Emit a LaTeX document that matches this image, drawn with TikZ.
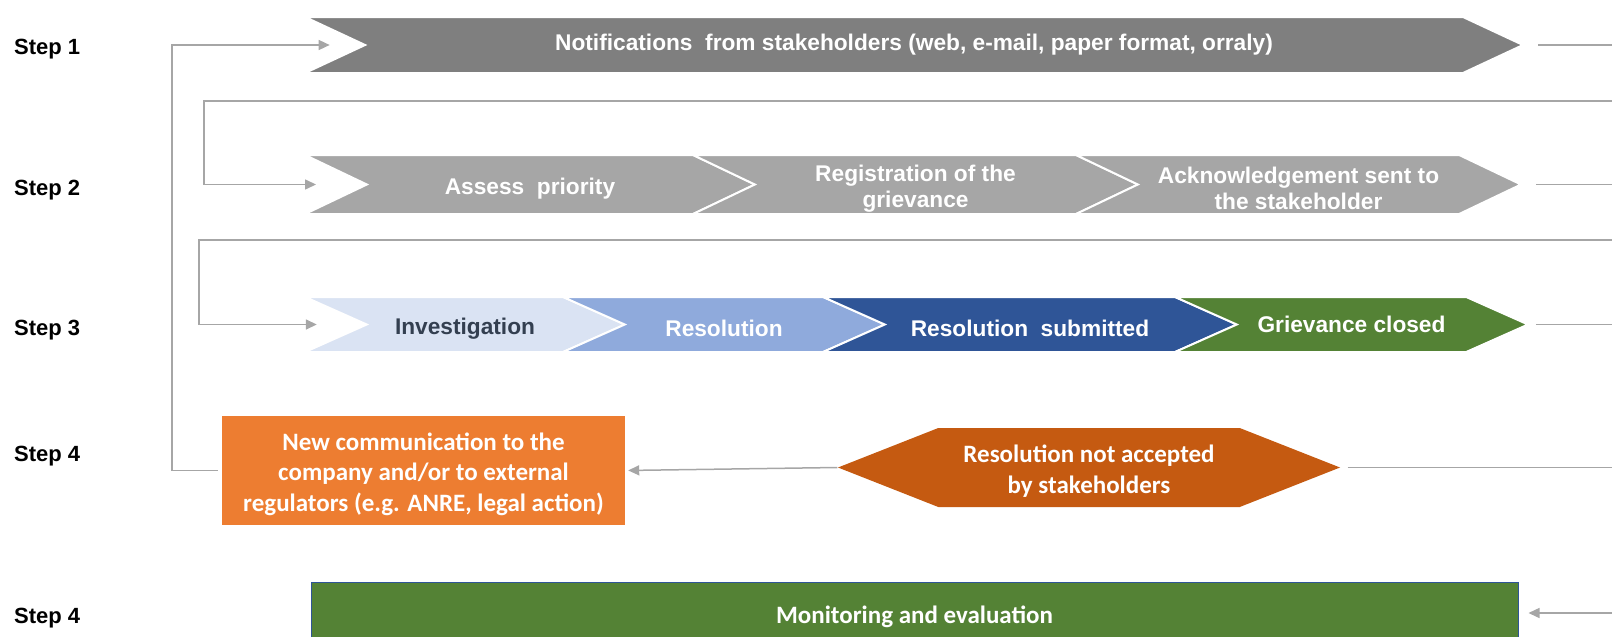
\documentclass[tikz,border=0pt]{standalone}
\usepackage{fontspec}
\setmainfont{Liberation Sans}
\newfontfamily\calibri{Carlito}
\usetikzlibrary{arrows.meta, positioning, shapes.symbols}

\definecolor{darkgrey}{HTML}{7F7F7F}
\definecolor{midgrey}{HTML}{A6A6A6}
\definecolor{paleblue}{HTML}{DAE3F3}
\definecolor{softblue}{HTML}{8FAADC}
\definecolor{deepblue}{HTML}{2F5597}
\definecolor{leafgreen}{HTML}{548235}
\definecolor{lightorange}{HTML}{ED7D31}
\definecolor{darkorange}{HTML}{C55A11}
\definecolor{slate}{HTML}{333F50}
\definecolor{linegrey}{HTML}{A6A6A6}

% lifts the first line so the text sits a little lower in its shape
\newcommand{\chevstrut}{\rule{0pt}{25pt}}

\begin{document}
\begin{tikzpicture}[x=1pt, y=-1pt, on grid, node distance=383pt, font=\fontsize{22}{26}\selectfont\bfseries]
	\tikzstyle{chevron} = [signal, signal from=west, signal to=east, draw=white, line width=2pt, inner sep=0pt, text=white, align=center, font=\fontsize{22.7}{26}\selectfont\bfseries]
	\tikzstyle{rowone} = [chevron, fill=darkgrey, minimum width=1218pt, minimum height=56pt, signal pointer angle=50]
	\tikzstyle{rowtwo} = [chevron, fill=midgrey, minimum width=445pt, minimum height=59pt, signal pointer angle=51]
	\tikzstyle{rowthree} = [chevron, minimum height=55pt, signal pointer angle=48]
	\tikzstyle{steplabel} = [anchor=base west, inner sep=0pt]
	\tikzstyle{calbox} = [font={\calibri\fontsize{25}{30.5}\selectfont\bfseries}, text=white, align=center, inner sep=0pt]
	\tikzstyle{flow} = [draw=linegrey, line width=1.5pt, -{Triangle[length=11pt, width=10pt]}]
	\tikzstyle{plainflow} = [draw=linegrey, line width=1.5pt]

	\useasboundingbox (0,0) rectangle (1612,637);

	\node[steplabel] (s1) at (14,54) {Step 1};
	\node[steplabel] (s2) at (14,195) {Step 2};
	\node[steplabel] (s3) at (14,335) {Step 3};
	\node[steplabel] (s4) at (14,461) {Step 4};
	\node[steplabel] (s5) at (14,623) {Step 4};

	% step 1
	\node[rowone] (notif) at (914,45) {Notifications\ \ from stakeholders (web, e-mail, paper format, orraly)};

	% step 2
	\node[rowtwo, minimum width=450pt] (assess) at (530,184.5) {\chevstrut Assess\ \ priority};
	\node[rowtwo] (register) [right=385.5pt of assess] {\chevstrut Registration of the\\grievance};
	\node[rowtwo] (acknowledge) [right=of register] {\chevstrut Acknowledgement sent to\\the stakeholder};

	% step 3
	\node[rowthree, fill=paleblue, text=slate, minimum width=320pt] (investigate) at (465,324.5) {\chevstrut Investigation};
	\node[rowthree, fill=softblue, minimum width=322pt] (resolve) [right=259pt of investigate] {\chevstrut Resolution};
	\node[rowthree, fill=deepblue, minimum width=414pt] (submit) [right=306pt of resolve] {\chevstrut Resolution\ \ submitted};
	\node[rowthree, fill=leafgreen, minimum width=353pt] (close) [right=321.5pt of submit] {Grievance closed};

	% step 4
	\node[calbox, fill=lightorange, minimum width=403pt, minimum height=109pt] (newcomm) at (423.5,470.5) {\chevstrut New communication to the\\company and/or to external\\regulators (e.g. ANRE, legal action)};
	\node[calbox, signal, signal to=west and east, signal pointer angle=43, fill=darkorange, minimum width=502pt, minimum height=79pt] (notaccepted) at (1089,467.5) {\chevstrut Resolution not accepted\\by stakeholders};
	\node[calbox, fill=leafgreen, draw=deepblue, line width=1pt, minimum width=1207pt, minimum height=62pt] (monitor) at (914.5,613) {\chevstrut Monitoring and evaluation};

	\coordinate (edgeA) at (1612,101);
	\coordinate (edgeB) at (1612,240);
	\coordinate (edgeC) at (1612,613);

	% connectors
	\draw[flow, shorten <=4pt, shorten >=33pt] (newcomm.west) -- ++(-50,0) |- (notif.west);
	\draw[plainflow, shorten <=13pt] (notif.east) -- (notif.east -| edgeA);
	\draw[flow, shorten >=48.5pt] (edgeA) -- ++(-1408,0) |- (assess.west);
	\draw[plainflow, shorten <=13pt] (acknowledge.east) -- (acknowledge.east -| edgeA);
	\draw[flow, shorten >=47.5pt] (edgeB) -- ++(-1413,0) |- (investigate.west);
	\draw[plainflow, shorten <=5.5pt] (close.east) -- (close.east -| edgeA);
	\draw[flow, shorten >=3pt] (notaccepted.west) -- (newcomm.east);
	\draw[plainflow, shorten <=7pt] (notaccepted.east) -- (notaccepted.east -| edgeA);
	\draw[flow, shorten >=10pt] (edgeC) -- (monitor.east);
\end{tikzpicture}
\end{document}
